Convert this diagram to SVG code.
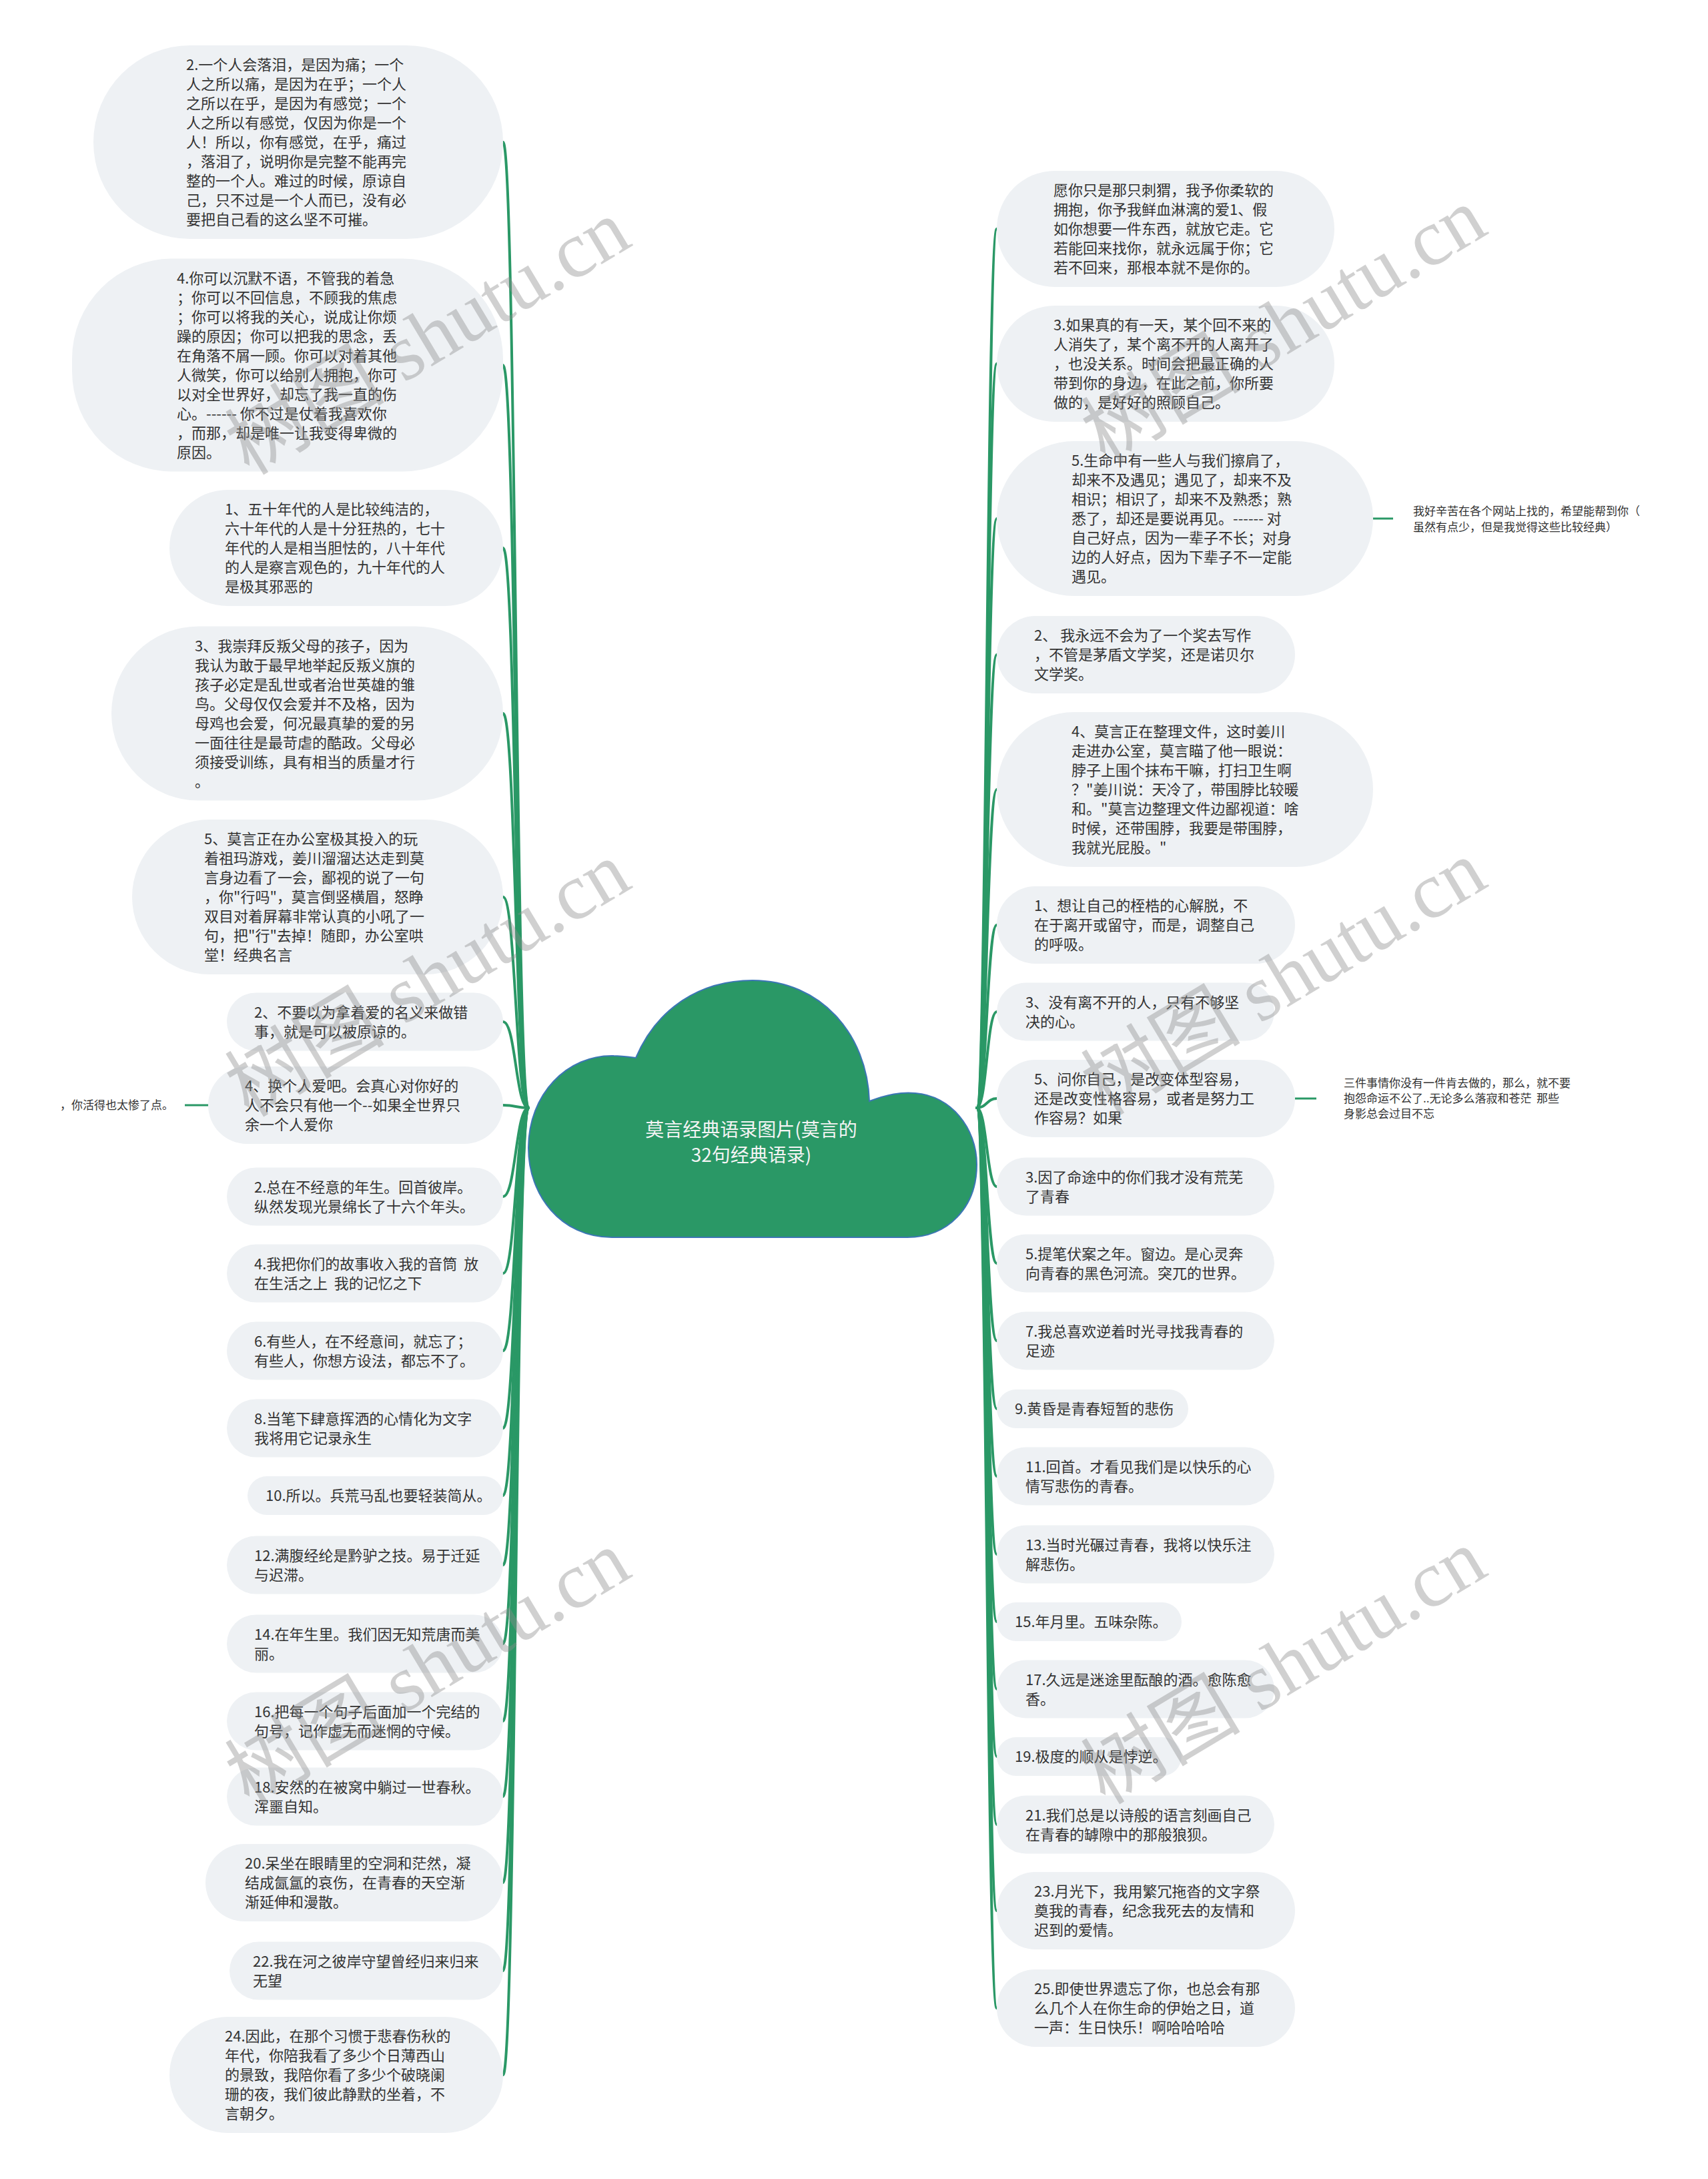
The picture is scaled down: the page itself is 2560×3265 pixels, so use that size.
<svg xmlns="http://www.w3.org/2000/svg" width="2560" height="3265" viewBox="0 0 2560 3265">
<style>
.node rect{fill:#eef1f4}
text{font-family:"Noto Sans CJK SC","Noto Sans",sans-serif;white-space:pre}
.node text{font-size:22px;fill:#333333}
.conn path{fill:none;stroke:#2a9866;stroke-width:4;stroke-linecap:round}
.conn line{stroke:#2a9866;stroke-width:3}
.side text{font-size:17px;fill:#333333}
.wm{font-family:"Liberation Serif","Noto Sans CJK SC",serif;font-size:120px;fill:#8c8c8c;opacity:.4}
</style>
<rect width="2560" height="3265" fill="#ffffff"/>
<g id="connectors" class="conn">
<path d="M792 1660C773 1660 773 213 754 213"/>
<path d="M792 1660C773 1660 773 547 754 547"/>
<path d="M792 1660C773 1660 773 821 754 821"/>
<path d="M792 1660C773 1660 773 1069 754 1069"/>
<path d="M792 1660C773 1660 773 1344 754 1344"/>
<path d="M792 1660C773 1660 773 1531 754 1531"/>
<path d="M792 1660C773 1660 773 1656 754 1656"/>
<path d="M792 1660C773 1660 773 1793 754 1793"/>
<path d="M792 1660C773 1660 773 1908 754 1908"/>
<path d="M792 1660C773 1660 773 2024 754 2024"/>
<path d="M792 1660C773 1660 773 2140 754 2140"/>
<path d="M792 1660C773 1660 773 2241 754 2241"/>
<path d="M792 1660C773 1660 773 2345 754 2345"/>
<path d="M792 1660C773 1660 773 2463 754 2463"/>
<path d="M792 1660C773 1660 773 2579 754 2579"/>
<path d="M792 1660C773 1660 773 2692 754 2692"/>
<path d="M792 1660C773 1660 773 2821 754 2821"/>
<path d="M792 1660C773 1660 773 2953 754 2953"/>
<path d="M792 1660C773 1660 773 3109 754 3109"/>
<path d="M1464 1660C1479 1660 1479 343 1494 343"/>
<path d="M1464 1660C1479 1660 1479 545 1494 545"/>
<path d="M1464 1660C1479 1660 1479 777 1494 777"/>
<path d="M1464 1660C1479 1660 1479 981 1494 981"/>
<path d="M1464 1660C1479 1660 1479 1183 1494 1183"/>
<path d="M1464 1660C1479 1660 1479 1386 1494 1386"/>
<path d="M1464 1660C1479 1660 1479 1516 1494 1516"/>
<path d="M1464 1660C1479 1660 1479 1646 1494 1646"/>
<path d="M1464 1660C1479 1660 1479 1778 1494 1778"/>
<path d="M1464 1660C1479 1660 1479 1893 1494 1893"/>
<path d="M1464 1660C1479 1660 1479 2009 1494 2009"/>
<path d="M1464 1660C1479 1660 1479 2111 1494 2111"/>
<path d="M1464 1660C1479 1660 1479 2212 1494 2212"/>
<path d="M1464 1660C1479 1660 1479 2329 1494 2329"/>
<path d="M1464 1660C1479 1660 1479 2430 1494 2430"/>
<path d="M1464 1660C1479 1660 1479 2531 1494 2531"/>
<path d="M1464 1660C1479 1660 1479 2632 1494 2632"/>
<path d="M1464 1660C1479 1660 1479 2734 1494 2734"/>
<path d="M1464 1660C1479 1660 1479 2863 1494 2863"/>
<path d="M1464 1660C1479 1660 1479 3009 1494 3009"/>
<line x1="277" y1="1656" x2="312" y2="1656"/>
<line x1="2058" y1="777" x2="2088" y2="777"/>
<line x1="1941" y1="1646" x2="1973" y2="1646"/>
</g>
<g id="root">
<path d="M953 1585C985 1510 1050 1469 1128 1469C1230 1469 1300 1550 1303 1650C1330 1640 1350 1636 1372 1638C1425 1642 1464 1690 1464 1745C1464 1810 1420 1854 1360 1854L917 1854C840 1854 792 1790 792 1720C792 1640 850 1580 920 1582C930 1582 945 1584 953 1585Z" fill="#2a9866" stroke="#3c76b5" stroke-width="2"/>
<text x="1126" y="1703" text-anchor="middle" font-size="28" fill="#f4f4f4">莫言经典语录图片(莫言的</text>
<text x="1126" y="1741" text-anchor="middle" font-size="28" fill="#f4f4f4">32句经典语录)</text>
</g>
<g id="L1" class="node"><rect x="140" y="68" width="614" height="290" rx="145"/><text x="279" y="105">2.一个人会落泪，是因为痛；一个<tspan x="279" dy="29">人之所以痛，是因为在乎；一个人</tspan><tspan x="279" dy="29">之所以在乎，是因为有感觉；一个</tspan><tspan x="279" dy="29">人之所以有感觉，仅因为你是一个</tspan><tspan x="279" dy="29">人！所以，你有感觉，在乎，痛过</tspan><tspan x="279" dy="29">，落泪了，说明你是完整不能再完</tspan><tspan x="279" dy="29">整的一个人。难过的时候，原谅自</tspan><tspan x="279" dy="29">己，只不过是一个人而已，没有必</tspan><tspan x="279" dy="29">要把自己看的这么坚不可摧。</tspan></text></g>
<g id="L2" class="node"><rect x="108" y="387.5" width="646" height="319" rx="150"/><text x="265" y="424.5">4.你可以沉默不语，不管我的着急<tspan x="265" dy="29">；你可以不回信息，不顾我的焦虑</tspan><tspan x="265" dy="29">；你可以将我的关心，说成让你烦</tspan><tspan x="265" dy="29">躁的原因；你可以把我的思念，丢</tspan><tspan x="265" dy="29">在角落不屑一顾。你可以对着其他</tspan><tspan x="265" dy="29">人微笑，你可以给别人拥抱，你可</tspan><tspan x="265" dy="29">以对全世界好，却忘了我一直的伤</tspan><tspan x="265" dy="29">心。------ 你不过是仗着我喜欢你</tspan><tspan x="265" dy="29">，而那，却是唯一让我变得卑微的</tspan><tspan x="265" dy="29">原因。</tspan></text></g>
<g id="L3" class="node"><rect x="254" y="734" width="500" height="174" rx="87"/><text x="337" y="771">1、五十年代的人是比较纯洁的，<tspan x="337" dy="29">六十年代的人是十分狂热的，七十</tspan><tspan x="337" dy="29">年代的人是相当胆怯的，八十年代</tspan><tspan x="337" dy="29">的人是察言观色的，九十年代的人</tspan><tspan x="337" dy="29">是极其邪恶的</tspan></text></g>
<g id="L4" class="node"><rect x="167" y="938.5" width="587" height="261" rx="130.5"/><text x="292" y="975.5">3、我崇拜反叛父母的孩子，因为<tspan x="292" dy="29">我认为敢于最早地举起反叛义旗的</tspan><tspan x="292" dy="29">孩子必定是乱世或者治世英雄的雏</tspan><tspan x="292" dy="29">鸟。父母仅仅会爱并不及格，因为</tspan><tspan x="292" dy="29">母鸡也会爱，何况最真挚的爱的另</tspan><tspan x="292" dy="29">一面往往是最苛虐的酷政。父母必</tspan><tspan x="292" dy="29">须接受训练，具有相当的质量才行</tspan><tspan x="292" dy="29">。</tspan></text></g>
<g id="L5" class="node"><rect x="198" y="1228" width="556" height="232" rx="116"/><text x="306" y="1265">5、莫言正在办公室极其投入的玩<tspan x="306" dy="29">着祖玛游戏，姜川溜溜达达走到莫</tspan><tspan x="306" dy="29">言身边看了一会，鄙视的说了一句</tspan><tspan x="306" dy="29">，你"行吗"，莫言倒竖横眉，怒睁</tspan><tspan x="306" dy="29">双目对着屏幕非常认真的小吼了一</tspan><tspan x="306" dy="29">句，把"行"去掉！随即，办公室哄</tspan><tspan x="306" dy="29">堂！经典名言</tspan></text></g>
<g id="L6" class="node"><rect x="340" y="1487.5" width="414" height="87" rx="43.5"/><text x="381" y="1524.5">2、不要以为拿着爱的名义来做错<tspan x="381" dy="29">事，就是可以被原谅的。</tspan></text></g>
<g id="L7" class="node"><rect x="312" y="1598" width="442" height="116" rx="58"/><text x="367" y="1635">4、换个人爱吧。会真心对你好的<tspan x="367" dy="29">人不会只有他一个--如果全世界只</tspan><tspan x="367" dy="29">余一个人爱你</tspan></text></g>
<g id="L7a" class="side"><text x="90" y="1662">，你活得也太惨了点。</text></g>
<g id="L8" class="node"><rect x="340" y="1749.5" width="414" height="87" rx="43.5"/><text x="381" y="1786.5">2.总在不经意的年生。回首彼岸。<tspan x="381" dy="29">纵然发现光景绵长了十六个年头。</tspan></text></g>
<g id="L9" class="node"><rect x="340" y="1864.5" width="414" height="87" rx="43.5"/><text x="381" y="1901.5">4.我把你们的故事收入我的音筒  放<tspan x="381" dy="29">在生活之上  我的记忆之下</tspan></text></g>
<g id="L10" class="node"><rect x="340" y="1980.5" width="414" height="87" rx="43.5"/><text x="381" y="2017.5">6.有些人，在不经意间，就忘了；<tspan x="381" dy="29">有些人，你想方设法，都忘不了。</tspan></text></g>
<g id="L11" class="node"><rect x="340" y="2096.5" width="414" height="87" rx="43.5"/><text x="381" y="2133.5">8.当笔下肆意挥洒的心情化为文字<tspan x="381" dy="29">我将用它记录永生</tspan></text></g>
<g id="L12" class="node"><rect x="371" y="2212" width="383" height="58" rx="29"/><text x="398" y="2249">10.所以。兵荒马乱也要轻装简从。</text></g>
<g id="L13" class="node"><rect x="340" y="2301.5" width="414" height="87" rx="43.5"/><text x="381" y="2338.5">12.满腹经纶是黔驴之技。易于迁延<tspan x="381" dy="29">与迟滞。</tspan></text></g>
<g id="L14" class="node"><rect x="340" y="2419.5" width="414" height="87" rx="43.5"/><text x="381" y="2456.5">14.在年生里。我们因无知荒唐而美<tspan x="381" dy="29">丽。</tspan></text></g>
<g id="L15" class="node"><rect x="340" y="2535.5" width="414" height="87" rx="43.5"/><text x="381" y="2572.5">16.把每一个句子后面加一个完结的<tspan x="381" dy="29">句号，记作虚无而迷惘的守候。</tspan></text></g>
<g id="L16" class="node"><rect x="340" y="2648.5" width="414" height="87" rx="43.5"/><text x="381" y="2685.5">18.安然的在被窝中躺过一世春秋。<tspan x="381" dy="29">浑噩自知。</tspan></text></g>
<g id="L17" class="node"><rect x="308" y="2763" width="446" height="116" rx="58"/><text x="367" y="2800">20.呆坐在眼睛里的空洞和茫然，凝<tspan x="367" dy="29">结成氤氲的哀伤，在青春的天空渐</tspan><tspan x="367" dy="29">渐延伸和漫散。</tspan></text></g>
<g id="L18" class="node"><rect x="344" y="2909.5" width="410" height="87" rx="43.5"/><text x="379" y="2946.5">22.我在河之彼岸守望曾经归来归来<tspan x="379" dy="29">无望</tspan></text></g>
<g id="L19" class="node"><rect x="254" y="3022" width="500" height="174" rx="87"/><text x="337" y="3059">24.因此，在那个习惯于悲春伤秋的<tspan x="337" dy="29">年代，你陪我看了多少个日薄西山</tspan><tspan x="337" dy="29">的景致，我陪你看了多少个破晓阑</tspan><tspan x="337" dy="29">珊的夜，我们彼此静默的坐着，不</tspan><tspan x="337" dy="29">言朝夕。</tspan></text></g>
<g id="R1" class="node"><rect x="1494" y="256" width="506" height="174" rx="87"/><text x="1579" y="293">愿你只是那只刺猬，我予你柔软的<tspan x="1579" dy="29">拥抱，你予我鲜血淋漓的爱1、假</tspan><tspan x="1579" dy="29">如你想要一件东西，就放它走。它</tspan><tspan x="1579" dy="29">若能回来找你，就永远属于你；它</tspan><tspan x="1579" dy="29">若不回来，那根本就不是你的。</tspan></text></g>
<g id="R2" class="node"><rect x="1494" y="458" width="506" height="174" rx="87"/><text x="1579" y="495">3.如果真的有一天，某个回不来的<tspan x="1579" dy="29">人消失了，某个离不开的人离开了</tspan><tspan x="1579" dy="29">，也没关系。时间会把最正确的人</tspan><tspan x="1579" dy="29">带到你的身边，在此之前，你所要</tspan><tspan x="1579" dy="29">做的，是好好的照顾自己。</tspan></text></g>
<g id="R3" class="node"><rect x="1494" y="661" width="564" height="232" rx="116"/><text x="1606" y="698">5.生命中有一些人与我们擦肩了，<tspan x="1606" dy="29">却来不及遇见；遇见了，却来不及</tspan><tspan x="1606" dy="29">相识；相识了，却来不及熟悉；熟</tspan><tspan x="1606" dy="29">悉了，却还是要说再见。------ 对</tspan><tspan x="1606" dy="29">自己好点，因为一辈子不长；对身</tspan><tspan x="1606" dy="29">边的人好点，因为下辈子不一定能</tspan><tspan x="1606" dy="29">遇见。</tspan></text></g>
<g id="R3a" class="side"><text x="2118" y="772">我好辛苦在各个网站上找的，希望能帮到你（<tspan x="2118" dy="24">虽然有点少，但是我觉得这些比较经典）</tspan></text></g>
<g id="R4" class="node"><rect x="1494" y="923" width="447" height="116" rx="58"/><text x="1550" y="960">2、 我永远不会为了一个奖去写作<tspan x="1550" dy="29">，不管是茅盾文学奖，还是诺贝尔</tspan><tspan x="1550" dy="29">文学奖。</tspan></text></g>
<g id="R5" class="node"><rect x="1494" y="1067" width="564" height="232" rx="116"/><text x="1606" y="1104">4、莫言正在整理文件，这时姜川<tspan x="1606" dy="29">走进办公室，莫言瞄了他一眼说：</tspan><tspan x="1606" dy="29">脖子上围个抹布干嘛，打扫卫生啊</tspan><tspan x="1606" dy="29">？"姜川说：天冷了，带围脖比较暖</tspan><tspan x="1606" dy="29">和。"莫言边整理文件边鄙视道：啥</tspan><tspan x="1606" dy="29">时候，还带围脖，我要是带围脖，</tspan><tspan x="1606" dy="29">我就光屁股。"</tspan></text></g>
<g id="R6" class="node"><rect x="1494" y="1328" width="447" height="116" rx="58"/><text x="1550" y="1365">1、想让自己的桎梏的心解脱，不<tspan x="1550" dy="29">在于离开或留守，而是，调整自己</tspan><tspan x="1550" dy="29">的呼吸。</tspan></text></g>
<g id="R7" class="node"><rect x="1494" y="1472.5" width="416" height="87" rx="43.5"/><text x="1537" y="1509.5">3、没有离不开的人，只有不够坚<tspan x="1537" dy="29">决的心。</tspan></text></g>
<g id="R8" class="node"><rect x="1494" y="1588" width="447" height="116" rx="58"/><text x="1550" y="1625">5、问你自己，是改变体型容易，<tspan x="1550" dy="29">还是改变性格容易，或者是努力工</tspan><tspan x="1550" dy="29">作容易？如果</tspan></text></g>
<g id="R8a" class="side"><text x="2014" y="1629">三件事情你没有一件肯去做的，那么，就不要<tspan x="2014" dy="23">抱怨命运不公了..无论多么落寂和苍茫  那些</tspan><tspan x="2014" dy="23">身影总会过目不忘</tspan></text></g>
<g id="R9" class="node"><rect x="1494" y="1734.5" width="416" height="87" rx="43.5"/><text x="1537" y="1771.5">3.因了命途中的你们我才没有荒芜<tspan x="1537" dy="29">了青春</tspan></text></g>
<g id="R10" class="node"><rect x="1494" y="1849.5" width="416" height="87" rx="43.5"/><text x="1537" y="1886.5">5.提笔伏案之年。窗边。是心灵奔<tspan x="1537" dy="29">向青春的黑色河流。突兀的世界。</tspan></text></g>
<g id="R11" class="node"><rect x="1494" y="1965.5" width="416" height="87" rx="43.5"/><text x="1537" y="2002.5">7.我总喜欢逆着时光寻找我青春的<tspan x="1537" dy="29">足迹</tspan></text></g>
<g id="R12" class="node"><rect x="1494" y="2082" width="287" height="58" rx="29"/><text x="1521" y="2119">9.黄昏是青春短暂的悲伤</text></g>
<g id="R13" class="node"><rect x="1494" y="2168.5" width="416" height="87" rx="43.5"/><text x="1537" y="2205.5">11.回首。才看见我们是以快乐的心<tspan x="1537" dy="29">情写悲伤的青春。</tspan></text></g>
<g id="R14" class="node"><rect x="1494" y="2285.5" width="416" height="87" rx="43.5"/><text x="1537" y="2322.5">13.当时光碾过青春，我将以快乐注<tspan x="1537" dy="29">解悲伤。</tspan></text></g>
<g id="R15" class="node"><rect x="1494" y="2401" width="277" height="58" rx="29"/><text x="1521" y="2438">15.年月里。五味杂陈。</text></g>
<g id="R16" class="node"><rect x="1494" y="2487.5" width="416" height="87" rx="43.5"/><text x="1537" y="2524.5">17.久远是迷途里酝酿的酒。愈陈愈<tspan x="1537" dy="29">香。</tspan></text></g>
<g id="R17" class="node"><rect x="1494" y="2603" width="277" height="58" rx="29"/><text x="1521" y="2640">19.极度的顺从是悖逆。</text></g>
<g id="R18" class="node"><rect x="1494" y="2690.5" width="416" height="87" rx="43.5"/><text x="1537" y="2727.5">21.我们总是以诗般的语言刻画自己<tspan x="1537" dy="29">在青春的罅隙中的那般狼狈。</tspan></text></g>
<g id="R19" class="node"><rect x="1494" y="2805" width="447" height="116" rx="58"/><text x="1550" y="2842">23.月光下，我用繁冗拖沓的文字祭<tspan x="1550" dy="29">奠我的青春，纪念我死去的友情和</tspan><tspan x="1550" dy="29">迟到的爱情。</tspan></text></g>
<g id="R20" class="node"><rect x="1494" y="2951" width="447" height="116" rx="58"/><text x="1550" y="2988">25.即使世界遗忘了你，也总会有那<tspan x="1550" dy="29">么几个人在你生命的伊始之日，道</tspan><tspan x="1550" dy="29">一声：生日快乐！啊哈哈哈哈</tspan></text></g>
<g id="watermarks">
<text class="wm" x="662" y="540" text-anchor="middle" transform="rotate(-31 662 540)">树图 shutu.cn</text>
<text class="wm" x="662" y="1502" text-anchor="middle" transform="rotate(-31 662 1502)">树图 shutu.cn</text>
<text class="wm" x="662" y="2534" text-anchor="middle" transform="rotate(-31 662 2534)">树图 shutu.cn</text>
<text class="wm" x="1945" y="522" text-anchor="middle" transform="rotate(-31 1945 522)">树图 shutu.cn</text>
<text class="wm" x="1945" y="1500" text-anchor="middle" transform="rotate(-31 1945 1500)">树图 shutu.cn</text>
<text class="wm" x="1945" y="2532" text-anchor="middle" transform="rotate(-31 1945 2532)">树图 shutu.cn</text>
</g>
</svg>
